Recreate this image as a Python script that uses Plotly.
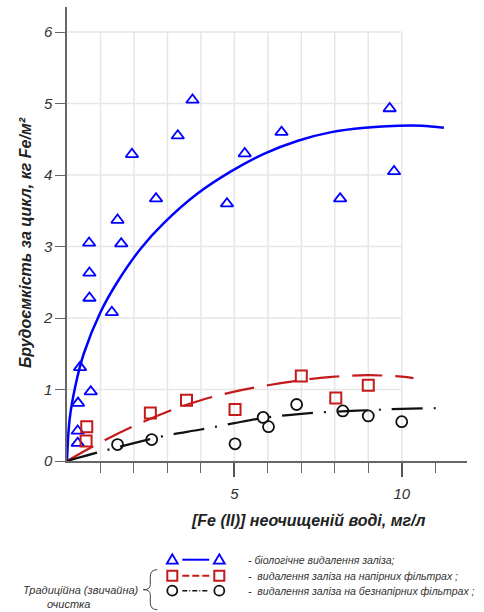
import plotly.graph_objects as go

# ---------------- data ----------------
bio_x = [0.32, 0.32, 0.33, 0.39, 0.67, 0.67, 0.66, 0.71, 1.34, 1.51, 1.62, 1.94,
         2.66, 3.31, 3.75, 4.78, 5.31, 6.41, 8.16, 9.64, 9.77]
bio_y = [0.25, 0.42, 0.81, 1.31, 2.28, 2.63, 3.05, 0.97, 2.08, 3.37, 3.04, 4.29,
         3.67, 4.55, 5.05, 3.60, 4.30, 4.60, 3.67, 4.93, 4.05]

press_x = [0.57, 0.59, 2.49, 3.57, 5.02, 7.00, 8.03, 9.00]
press_y = [0.28, 0.48, 0.67, 0.85, 0.72, 1.19, 0.88, 1.06]

grav_x = [1.51, 2.53, 5.02, 5.86, 6.02, 6.86, 8.24, 9.00, 10.00]
grav_y = [0.23, 0.30, 0.24, 0.61, 0.48, 0.79, 0.70, 0.63, 0.55]

bio_fit_x = [0, 0.08, 0.25, 0.5, 1.0, 1.5, 2.2, 2.9, 3.9, 4.9, 5.9, 6.9, 7.9, 8.9,
             9.9, 10.6, 11.26]
bio_fit_y = [0, 0.59, 1.05, 1.50, 2.08, 2.50, 2.97, 3.33, 3.74, 4.05, 4.30, 4.48,
             4.60, 4.66, 4.69, 4.69, 4.66]

press_fit_x = [0, 1, 2, 3, 4, 5, 6, 7, 8, 9, 10, 10.35]
press_fit_y = [0, 0.26, 0.49, 0.69, 0.85, 0.97, 1.06, 1.13, 1.18, 1.20, 1.18, 1.16]

grav_fit_x = [0, 1, 2, 3, 4, 5, 6, 7, 8, 9, 10, 11.34]
grav_fit_y = [0, 0.13, 0.25, 0.36, 0.44, 0.53, 0.61, 0.66, 0.69, 0.71, 0.73, 0.74]

x_major = [5, 10]
x_minor = [1, 2, 3, 4, 6, 7, 8, 9, 11]
y_ticks = [0, 1, 2, 3, 4, 5, 6]
grid_x = [1, 2, 3, 4, 5, 6, 7, 8, 9, 10]
grid_y = [1, 2, 3, 4, 5, 6]

x_title = "[Fe (II)] неочищеній воді, мг/л"
y_title = "Брудоємкість за цикл, кг Fe/м²"
legend_texts = ["- біологічне видалення заліза;",
                "-  видалення заліза на напірних фільтрах ;",
                "-  видалення заліза на безнапірних фільтрах ;"]
group_text = ["Традиційна (звичайна)", "очистка"]

# ---------------- style ----------------
BLUE = "#0000ff"
RED = "#c41a1a"
BLACK = "#111111"
FONT = "Liberation Sans, Arial, sans-serif"
TXT = "#333333"

W, H = 484, 612
L, R, T, B = 66.7, 466.7, 7.3, 461.3


def px(x):
    return (x - L) / (R - L)


def py(y):
    return (B - y) / (B - T)


fig = go.Figure()

fig.add_trace(go.Scatter(x=bio_fit_x, y=bio_fit_y, mode="lines", line_shape="spline",
                         line=dict(color=BLUE, width=2.5, smoothing=1), cliponaxis=False,
                         showlegend=False, hoverinfo="skip"))
fig.add_trace(go.Scatter(x=press_fit_x, y=press_fit_y, mode="lines", line_shape="spline",
                         line=dict(color=RED, width=2.2, dash="30px,13px"), cliponaxis=False,
                         showlegend=False, hoverinfo="skip"))
fig.add_trace(go.Scatter(x=grav_fit_x, y=grav_fit_y, mode="lines", line_shape="spline",
                         line=dict(color=BLACK, width=2.2, dash="31px,11px,2px,11px"),
                         cliponaxis=False, showlegend=False, hoverinfo="skip"))

fig.add_trace(go.Scatter(x=bio_x, y=bio_y, mode="markers", cliponaxis=False,
                         marker=dict(symbol="triangle-up-open", size=11, color=BLUE,
                                     line=dict(width=1.8, color=BLUE)),
                         showlegend=False))
fig.add_trace(go.Scatter(x=press_x, y=press_y, mode="markers", cliponaxis=False,
                         marker=dict(symbol="square-open", size=11, color=RED,
                                     line=dict(width=2, color=RED)),
                         showlegend=False))
fig.add_trace(go.Scatter(x=grav_x, y=grav_y, mode="markers", cliponaxis=False,
                         marker=dict(symbol="circle-open", size=11, color=BLACK,
                                     line=dict(width=1.8, color=BLACK)),
                         showlegend=False))

shapes = []
for g in grid_x:
    shapes.append(dict(type="line", xref="x", yref="y", x0=g, x1=g, y0=0, y1=max(grid_y),
                       line=dict(color="#e6e6e6", width=1.5), layer="below"))
for g in grid_y:
    shapes.append(dict(type="line", xref="x", yref="y", x0=0, x1=max(grid_x), y0=g, y1=g,
                       line=dict(color="#e6e6e6", width=1.5), layer="below"))

# ---- custom legend ----
rows = [560, 576, 591]
mx = [172, 219]
for i, yy in enumerate(rows):
    if i == 0:
        for cx in mx:
            path = "M{},{} L{},{} L{},{} Z".format(px(cx - 5.5), py(yy + 4), px(cx + 5.5), py(yy + 4),
                                                    px(cx), py(yy - 5.5))
            shapes.append(dict(type="path", xref="paper", yref="paper", path=path,
                               line=dict(color=BLUE, width=1.8)))
        shapes.append(dict(type="line", xref="paper", yref="paper", x0=px(182), x1=px(209),
                           y0=py(yy), y1=py(yy), line=dict(color=BLUE, width=2)))
    elif i == 1:
        for cx in mx:
            shapes.append(dict(type="rect", xref="paper", yref="paper", x0=px(cx - 5), x1=px(cx + 5),
                               y0=py(yy + 5), y1=py(yy - 5), line=dict(color=RED, width=2)))
        shapes.append(dict(type="line", xref="paper", yref="paper", x0=px(182), x1=px(209),
                           y0=py(yy), y1=py(yy), line=dict(color=RED, width=2, dash="7px,3px")))
    else:
        for cx in mx:
            shapes.append(dict(type="circle", xref="paper", yref="paper", x0=px(cx - 5), x1=px(cx + 5),
                               y0=py(yy + 5), y1=py(yy - 5), line=dict(color=BLACK, width=1.8)))
        shapes.append(dict(type="line", xref="paper", yref="paper", x0=px(182), x1=px(209),
                           y0=py(yy), y1=py(yy),
                           line=dict(color=BLACK, width=1.5, dash="5px,2px,1px,2px")))

# brace
bx, by0, by1, bm = 157, 570, 610, 590
brace = ("M{},{} Q{},{} {},{} L{},{} Q{},{} {},{} Q{},{} {},{} L{},{} Q{},{} {},{}").format(
    px(bx), py(by0), px(150), py(by0), px(150), py(by0 + 7), px(150), py(bm - 5),
    px(150), py(bm), px(143), py(bm), px(150), py(bm), px(150), py(bm + 5),
    px(150), py(by1 - 7), px(150), py(by1), px(bx), py(by1))
shapes.append(dict(type="path", xref="paper", yref="paper", path=brace,
                   line=dict(color="#444444", width=1)))

annotations = []
for txt, yy in zip(legend_texts, rows):
    annotations.append(dict(text=txt, xref="paper", yref="paper", x=px(246), y=py(yy),
                            xanchor="left", yanchor="middle", showarrow=False,
                            font=dict(family=FONT, size=10.5, color=TXT, style="italic")))
annotations.append(dict(text=group_text[0], xref="paper", yref="paper", x=px(80.5), y=py(590),
                        xanchor="center", yanchor="middle", showarrow=False,
                        font=dict(family=FONT, size=11, color=TXT, style="italic")))
annotations.append(dict(text=group_text[1], xref="paper", yref="paper", x=px(68.5), y=py(604),
                        xanchor="center", yanchor="middle", showarrow=False,
                        font=dict(family=FONT, size=11, color=TXT, style="italic")))
annotations.append(dict(text=x_title, xref="paper", yref="paper", x=px(308), y=py(521),
                        xanchor="center", yanchor="middle", showarrow=False,
                        font=dict(family=FONT, size=16, color="#222222", style="italic",
                                  weight="bold")))
annotations.append(dict(text=y_title, xref="paper", yref="paper", x=px(25), y=py(243),
                        xanchor="center", yanchor="middle", showarrow=False, textangle=-90,
                        font=dict(family=FONT, size=16, color="#222222", style="italic",
                                  weight="bold")))

fig.update_layout(
    width=W, height=H,
    margin=dict(l=L, r=W - R, t=T, b=H - B, pad=0),
    plot_bgcolor="white", paper_bgcolor="white",
    shapes=shapes, annotations=annotations,
    xaxis=dict(range=[0, 11.95], showgrid=False, zeroline=False,
               showline=True, linecolor="#666666", linewidth=1.5,
               tickmode="array", tickvals=x_major, ticktext=[str(v) for v in x_major],
               ticks="outside", ticklen=14, tickwidth=1.5, tickcolor="#555555",
               ticklabelstandoff=4,
               tickfont=dict(family=FONT, size=15, color=TXT, style="italic"),
               minor=dict(tickmode="array", tickvals=x_minor, ticks="outside", ticklen=10,
                          tickwidth=1.2, tickcolor="#666666", showgrid=False)),
    yaxis=dict(range=[0, 6.35], showgrid=False, zeroline=False,
               showline=True, linecolor="#666666", linewidth=1.5,
               tickmode="array", tickvals=y_ticks, ticktext=[str(v) for v in y_ticks],
               ticks="outside", ticklen=10, tickwidth=1.2, tickcolor="#666666",
               tickfont=dict(family=FONT, size=15, color=TXT, style="italic")),
)

fig.write_html("out.html", config={"displayModeBar": False},
               post_script="document.body.style.margin='0px';")
